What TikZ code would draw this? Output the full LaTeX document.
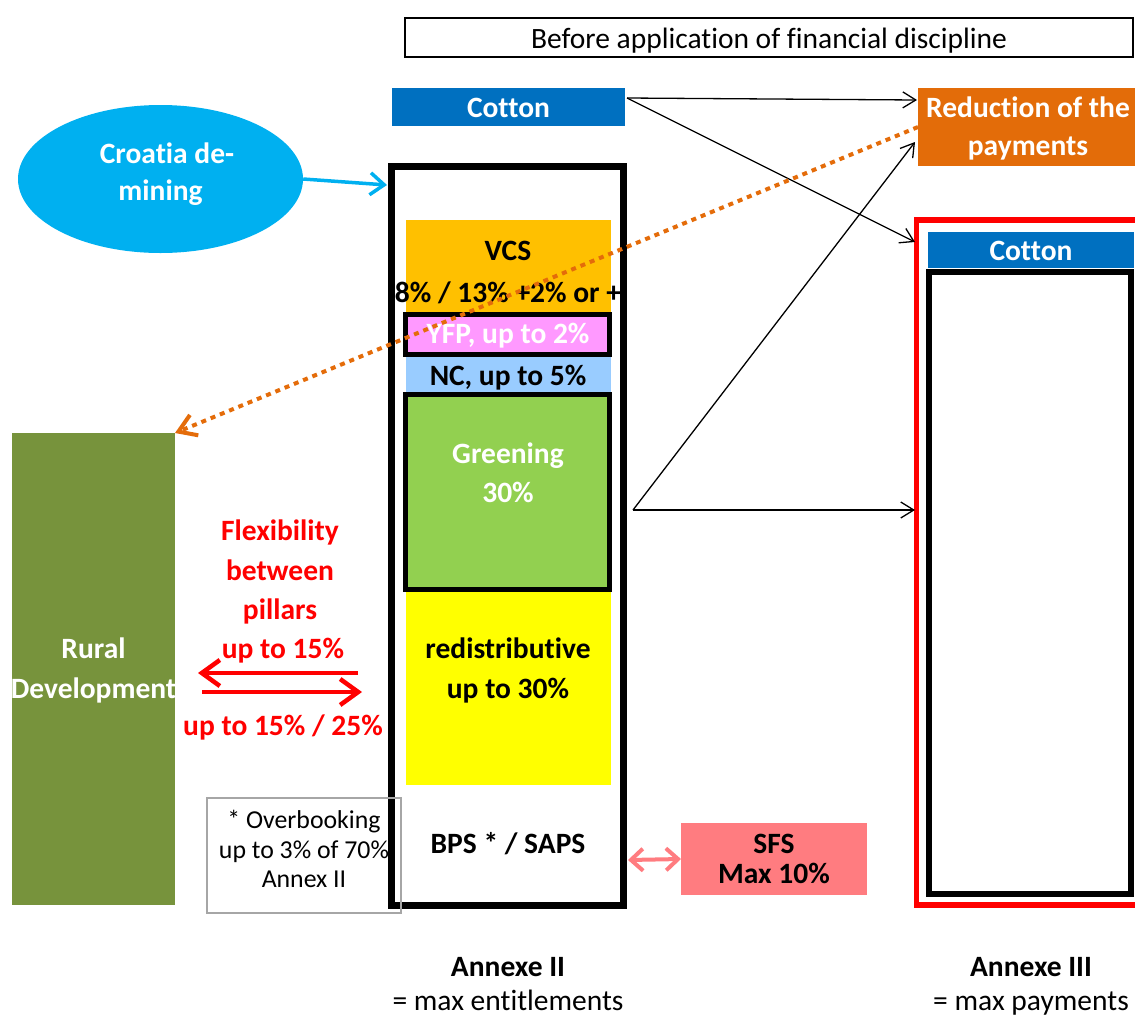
\documentclass[tikz,border=0pt]{standalone}
\usepackage{fontspec}
\setmainfont{Carlito}[RawFeature={-liga;-clig;-dlig;-calt}]
\usetikzlibrary{arrows.meta,shapes.geometric}
\definecolor{cotblue}{HTML}{0070C0}
\definecolor{redorange}{HTML}{E36C09}
\definecolor{croacyan}{HTML}{00B0F0}
\definecolor{vcsorange}{HTML}{FFC000}
\definecolor{yfppink}{HTML}{FF99FF}
\definecolor{ncblue}{HTML}{99CCFF}
\definecolor{greengreen}{HTML}{92D050}
\definecolor{redisyellow}{HTML}{FFFF00}
\definecolor{sfspink}{HTML}{FF7C80}
\definecolor{ruralolive}{HTML}{77933C}
\definecolor{overgray}{HTML}{A6A6A6}
\definecolor{dotorange}{HTML}{E46C0A}
\begin{document}
\begin{tikzpicture}[x=1pt,y=-1pt,
  bx/.style={rectangle,inner sep=0pt,outer sep=0pt},
  bt/.style={font=\fontsize{29.5}{36}\selectfont\bfseries,inner sep=0pt,anchor=base},
  rt/.style={font=\fontsize{29.5}{36}\selectfont,inner sep=0pt,anchor=base},
  st/.style={font=\fontsize{25.8}{30}\selectfont,inner sep=0pt,anchor=base},
  thinarr/.style={line width=1.3pt,-{Straight Barb[length=13pt,width=16pt]}},
  redarr/.style={red,line width=4.5pt,-{Straight Barb[length=18pt,width=26pt]}},
]
\useasboundingbox (0,0) rectangle (1135,1018);

% title
\node[bx,draw,line width=2.5pt,minimum width=728pt,minimum height=39pt] (title) at (769,37.5) {};
\node[rt] (titletxt) at (769,48) {Before application of financial discipline};

% top cotton
\node[bx,fill=cotblue,minimum width=233pt,minimum height=38pt] (cotton1) at (508.5,107) {};
\node[bt,white] (cotton1txt) at (508.5,117) {Cotton};

% reduction
\node[bx,fill=redorange,minimum width=220pt,minimum height=78pt] (reduction) at (1028,127) {};
\node[bt,white] (red1) at (1028,117) {Reduction of the};
\node[bt,white] (red2) at (1028,155) {payments};

% Croatia ellipse
\node[ellipse,fill=croacyan,inner sep=0pt,minimum width=285pt,minimum height=148pt] (croatia) at (160.5,179) {};
\node[bt,white] (cro1) at (167,163) {Croatia de-};
\node[bt,white] (cro2) at (160.5,200) {mining};

% Rural development
\node[bx,fill=ruralolive,minimum width=163pt,minimum height=472pt] (rural) at (93.5,669) {};
\node[bt,white] (rur1) at (93.5,658) {Rural};
\node[bt,white] (rur2) at (93.5,698) {Development};

% Annexe II contents
\node[bx,fill=vcsorange,minimum width=205pt,minimum height=92pt] (vcs) at (508.5,266) {};
\node[bx,fill=ncblue,minimum width=205pt,minimum height=37pt] (nc) at (508.5,375) {};
\node[bx,fill=redisyellow,minimum width=205pt,minimum height=194pt] (redis) at (508.5,688) {};
\node[bx,draw,line width=4.5pt,fill=yfppink,minimum width=204pt,minimum height=40pt] (yfp) at (507.5,334.5) {};
\node[bx,draw,line width=4.5pt,fill=greengreen,minimum width=204pt,minimum height=195pt] (greening) at (507.5,492) {};
\node[bx,draw,line width=6.5pt,minimum width=232pt,minimum height=739pt] (annex2) at (507.5,536) {};

\node[bt] (vcs1) at (508,260) {VCS};
\node[bt] (vcs2) at (508,302) {8\% / 13\% +2\% or +};
\node[bt,white] (yfptxt) at (508,343) {YFP, up to 2\%};
\node[bt] (nctxt) at (508,385) {NC, up to 5\%};
\node[bt,white] (gr1) at (508,463) {Greening};
\node[bt,white] (gr2) at (508,502) {30\%};
\node[bt] (rd1) at (508,658) {redistributive};
\node[bt] (rd2) at (508,698) {up to 30\%};
\node[bt] (bps) at (508,853) {BPS * / SAPS};

% overbooking
\node[bx,draw=overgray,line width=1.3pt,minimum width=194pt,minimum height=115pt] (over) at (304,855.5) {};
\node[st] (ov1) at (304,828) {* Overbooking};
\node[st] (ov2) at (304,858) {up to 3\% of 70\%};
\node[st] (ov3) at (304,887) {Annex II};

% SFS
\node[bx,fill=sfspink,minimum width=186pt,minimum height=72pt] (sfs) at (774,859) {};
\node[bt] (sfs1) at (774,853) {SFS};
\node[bt] (sfs2) at (774,883) {Max 10\%};

% flexibility texts
\node[bt,red] (fl1) at (280,540) {Flexibility};
\node[bt,red] (fl2) at (280,580) {between};
\node[bt,red] (fl3) at (280,619) {pillars};
\node[bt,red] (fl4) at (283,658) {up to 15\%};
\node[bt,red] (fl5) at (283,735) {up to 15\% / 25\%};

% Annexe III
\node[bx,draw=red,line width=5.5pt,minimum width=224pt,minimum height=685pt] (annex3) at (1028.5,562.5) {};
\node[bx,fill=cotblue,minimum width=206pt,minimum height=36pt] (cotton2) at (1031,250) {};
\node[bt,white] (cotton2txt) at (1031,260) {Cotton};
\node[bx,draw,line width=6pt,minimum width=202pt,minimum height=622pt] (annex3in) at (1030,583) {};

% bottom labels
\node[bt] (an2) at (508,976) {Annexe II};
\node[rt] (an2b) at (508,1010) {= max entitlements};
\node[bt] (an3) at (1031,976) {Annexe III};
\node[rt] (an3b) at (1031,1010) {= max payments};

% coordinates for connectors
\coordinate (cs) at (627,98);
\coordinate (redtip) at (917,100);
\coordinate (a3tip) at (915,242);
\coordinate (gs) at (633,510);
\coordinate (risetip) at (915,142);
\coordinate (horiztip) at (915,510);
\coordinate (cyanend) at (387,185);
\coordinate (la1) at (358,673);
\coordinate (la2) at (198,673);
\coordinate (ra1) at (202,692);
\coordinate (ra2) at (362,692);
\coordinate (sfsl) at (628,860);

% connectors
\draw[thinarr] (cs) -- (redtip);
\draw[thinarr] (cs) -- (a3tip);
\draw[thinarr] (gs) -- (risetip);
\draw[thinarr] (gs) -- (horiztip);
\draw[croacyan,line width=3.5pt,-{Straight Barb[length=14pt,width=22pt]}] (croatia.east) -- (cyanend);
\draw[redarr] (la1) -- (la2);
\draw[redarr] (ra1) -- (ra2);
\draw[sfspink,line width=4pt,{Straight Barb[length=12pt,width=22pt]}-{Straight Barb[length=12pt,width=22pt]}] (sfsl) -- (sfs.west);
\draw[dotorange,line width=4pt,dash pattern=on 5pt off 5pt,-{Straight Barb[length=17pt,width=22pt]}] (reduction.west) -- (rural.north east);
\end{tikzpicture}
\end{document}
